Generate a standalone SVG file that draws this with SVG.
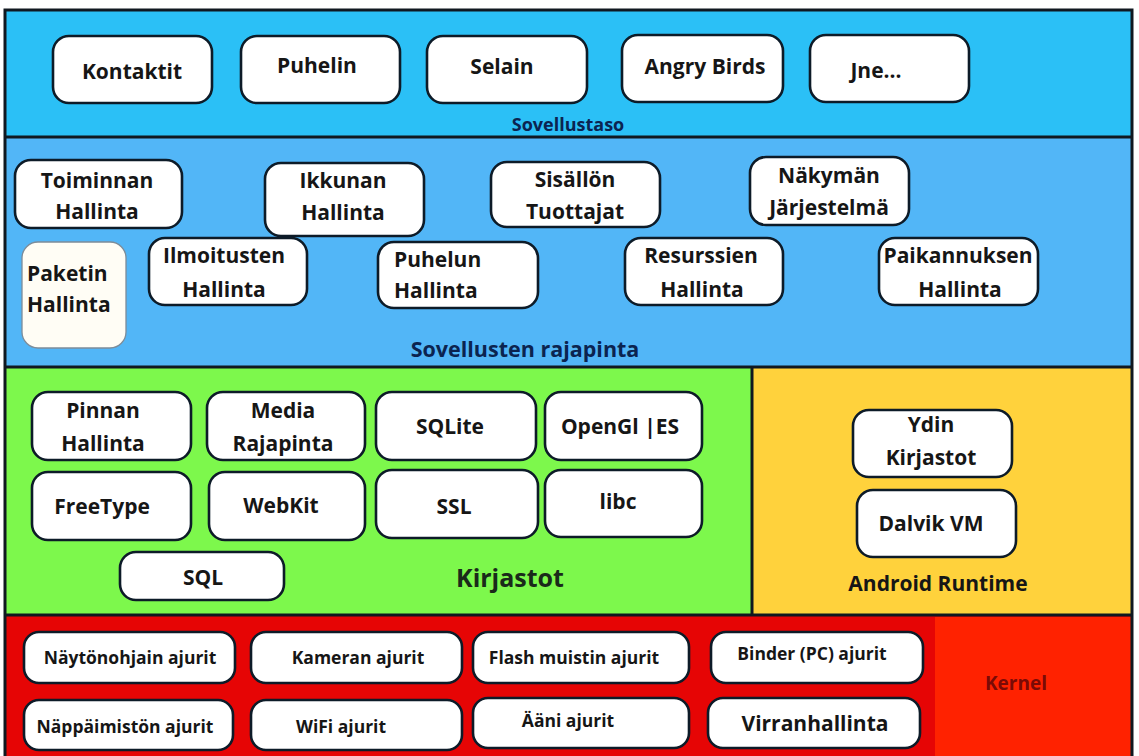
<svg xmlns="http://www.w3.org/2000/svg" width="1139" height="756" viewBox="0 0 1139 756">
<style>
.n{fill:#fff;stroke:#0d1b28;stroke-width:2.6}
.t{font-family:"Open Sans","Noto Sans",sans-serif;font-weight:bold;font-size:21px;fill:#161616;text-anchor:middle}
.k{font-size:17.5px}
.lbl{font-family:"Open Sans","Noto Sans",sans-serif;font-weight:bold;fill:#0b2450;text-anchor:middle;font-size:18px}
.sep{stroke:#101820;stroke-width:3;fill:none}
</style>
<rect x="0" y="0" width="1139" height="756" fill="#fff"/>
<g id="layers">
<rect x="5" y="10" width="1127" height="127" fill="#2bc0f6"/>
<rect x="5" y="137" width="1127" height="230" fill="#52b6f7"/>
<rect x="5" y="367" width="747" height="248" fill="#7df84c"/>
<rect x="752" y="367" width="380" height="248" fill="#ffd23c"/>
<rect x="5" y="615" width="1127" height="141" fill="#e60505"/>
<rect x="935" y="617" width="197" height="139" fill="#ff2200"/>
<path class="sep" d="M5 137H1132M5 367H1132M5 615H1132M752 367V615"/>
<rect x="5" y="10" width="1127" height="748" class="sep"/>
<text class="lbl" x="568" y="131">Sovellustaso</text>
<text class="lbl" x="525" y="357" style="font-size:21.5px">Sovellusten rajapinta</text>
<text class="t" x="510" y="587" style="font-size:25px;fill:#1a2a1a">Kirjastot</text>
<text class="t" x="938" y="591" style="font-size:21px">Android Runtime</text>
<text class="t" x="1016" y="690" style="font-size:19px;fill:#7a0a06">Kernel</text>
</g>
<g id="connectors"></g>
<g id="kontaktit"><rect class="n" x="53" y="36" width="159" height="67" rx="16"/><text class="t" x="132" y="79">Kontaktit</text></g>
<g id="puhelin"><rect class="n" x="241" y="36" width="159" height="67" rx="16"/><text class="t" x="317" y="73">Puhelin</text></g>
<g id="selain"><rect class="n" x="427" y="36" width="160" height="67" rx="16"/><text class="t" x="502" y="74">Selain</text></g>
<g id="angrybirds"><rect class="n" x="622" y="35" width="161" height="67" rx="16"/><text class="t" x="705" y="74">Angry Birds</text></g>
<g id="jne"><rect class="n" x="810" y="35" width="159" height="67" rx="16"/><text class="t" x="876" y="78">Jne...</text></g>

<g id="toiminnan"><rect class="n" x="15" y="160" width="167" height="68" rx="16"/><text class="t" x="97" y="188">Toiminnan</text><text class="t" x="97" y="219">Hallinta</text></g>
<g id="ikkunan"><rect class="n" x="265" y="163" width="159" height="73" rx="16"/><text class="t" x="343" y="188">Ikkunan</text><text class="t" x="343" y="220">Hallinta</text></g>
<g id="sisallon"><rect class="n" x="491" y="162" width="169" height="65" rx="16"/><text class="t" x="575" y="187">Sisällön</text><text class="t" x="575" y="219">Tuottajat</text></g>
<g id="nakyman"><rect class="n" x="750" y="157" width="159" height="68" rx="16"/><text class="t" x="829" y="183">Näkymän</text><text class="t" x="829" y="215">Järjestelmä</text></g>
<g id="paketin"><rect x="22" y="242" width="104" height="106" rx="16" fill="#fffdf5" stroke="#7d8c99" stroke-width="1.3"/><text class="t" x="27" y="281" style="text-anchor:start">Paketin</text><text class="t" x="27" y="312" style="text-anchor:start">Hallinta</text></g>
<g id="ilmoitusten"><rect class="n" x="149" y="238" width="158" height="67" rx="16"/><text class="t" x="224" y="263">Ilmoitusten</text><text class="t" x="224" y="297">Hallinta</text></g>
<g id="puhelun"><rect class="n" x="378" y="242" width="160" height="66" rx="16"/><text class="t" x="394" y="267" style="text-anchor:start">Puhelun</text><text class="t" x="394" y="298" style="text-anchor:start">Hallinta</text></g>
<g id="resurssien"><rect class="n" x="625" y="238" width="158" height="67" rx="16"/><text class="t" x="701" y="263">Resurssien</text><text class="t" x="702" y="297">Hallinta</text></g>
<g id="paikannuksen"><rect class="n" x="879" y="238" width="159" height="67" rx="16"/><text class="t" x="958" y="263">Paikannuksen</text><text class="t" x="960" y="297">Hallinta</text></g>

<g id="pinnan"><rect class="n" x="32" y="392" width="159" height="68" rx="16"/><text class="t" x="103" y="418">Pinnan</text><text class="t" x="103" y="451">Hallinta</text></g>
<g id="media"><rect class="n" x="207" y="392" width="158" height="68" rx="16"/><text class="t" x="283" y="418">Media</text><text class="t" x="283" y="451">Rajapinta</text></g>
<g id="sqlite"><rect class="n" x="376" y="392" width="160" height="68" rx="16"/><text class="t" x="450" y="434">SQLite</text></g>
<g id="opengl"><rect class="n" x="545" y="392" width="157" height="68" rx="16"/><text class="t" x="620" y="434">OpenGl |ES</text></g>
<g id="freetype"><rect class="n" x="32" y="472" width="159" height="68" rx="16"/><text class="t" x="102" y="514">FreeType</text></g>
<g id="webkit"><rect class="n" x="209" y="472" width="156" height="68" rx="16"/><text class="t" x="281" y="513">WebKit</text></g>
<g id="ssl"><rect class="n" x="376" y="470" width="162" height="68" rx="16"/><text class="t" x="454" y="514">SSL</text></g>
<g id="libc"><rect class="n" x="545" y="470" width="157" height="67" rx="16"/><text class="t" x="618" y="509">libc</text></g>
<g id="sql"><rect class="n" x="120" y="552" width="164" height="48" rx="16"/><text class="t" x="203" y="585">SQL</text></g>

<g id="ydin"><rect class="n" x="853" y="410" width="159" height="67" rx="16"/><text class="t" x="931" y="432">Ydin</text><text class="t" x="931" y="465">Kirjastot</text></g>
<g id="dalvik"><rect class="n" x="857" y="490" width="159" height="67" rx="16"/><text class="t" x="931" y="531">Dalvik VM</text></g>

<g id="naytonohjain"><rect class="n" x="24" y="632" width="211" height="51" rx="15"/><text class="t k" x="130" y="664">Näytönohjain ajurit</text></g>
<g id="kameran"><rect class="n" x="251" y="632" width="211" height="51" rx="15"/><text class="t k" x="358" y="664">Kameran ajurit</text></g>
<g id="flash"><rect class="n" x="473" y="632" width="216" height="51" rx="15"/><text class="t k" x="574" y="664">Flash muistin ajurit</text></g>
<g id="binder"><rect class="n" x="711" y="632" width="212" height="51" rx="15"/><text class="t k" x="812" y="660">Binder (PC) ajurit</text></g>
<g id="nappaimiston"><rect class="n" x="24" y="700" width="209" height="50" rx="15"/><text class="t k" x="125" y="733">Näppäimistön ajurit</text></g>
<g id="wifi"><rect class="n" x="251" y="700" width="211" height="50" rx="15"/><text class="t k" x="341" y="733">WiFi ajurit</text></g>
<g id="aani"><rect class="n" x="473" y="698" width="216" height="50" rx="15"/><text class="t k" x="568" y="727">Ääni ajurit</text></g>
<g id="virranhallinta"><rect class="n" x="708" y="698" width="212" height="50" rx="15"/><text class="t" x="815" y="731">Virranhallinta</text></g>
</svg>
